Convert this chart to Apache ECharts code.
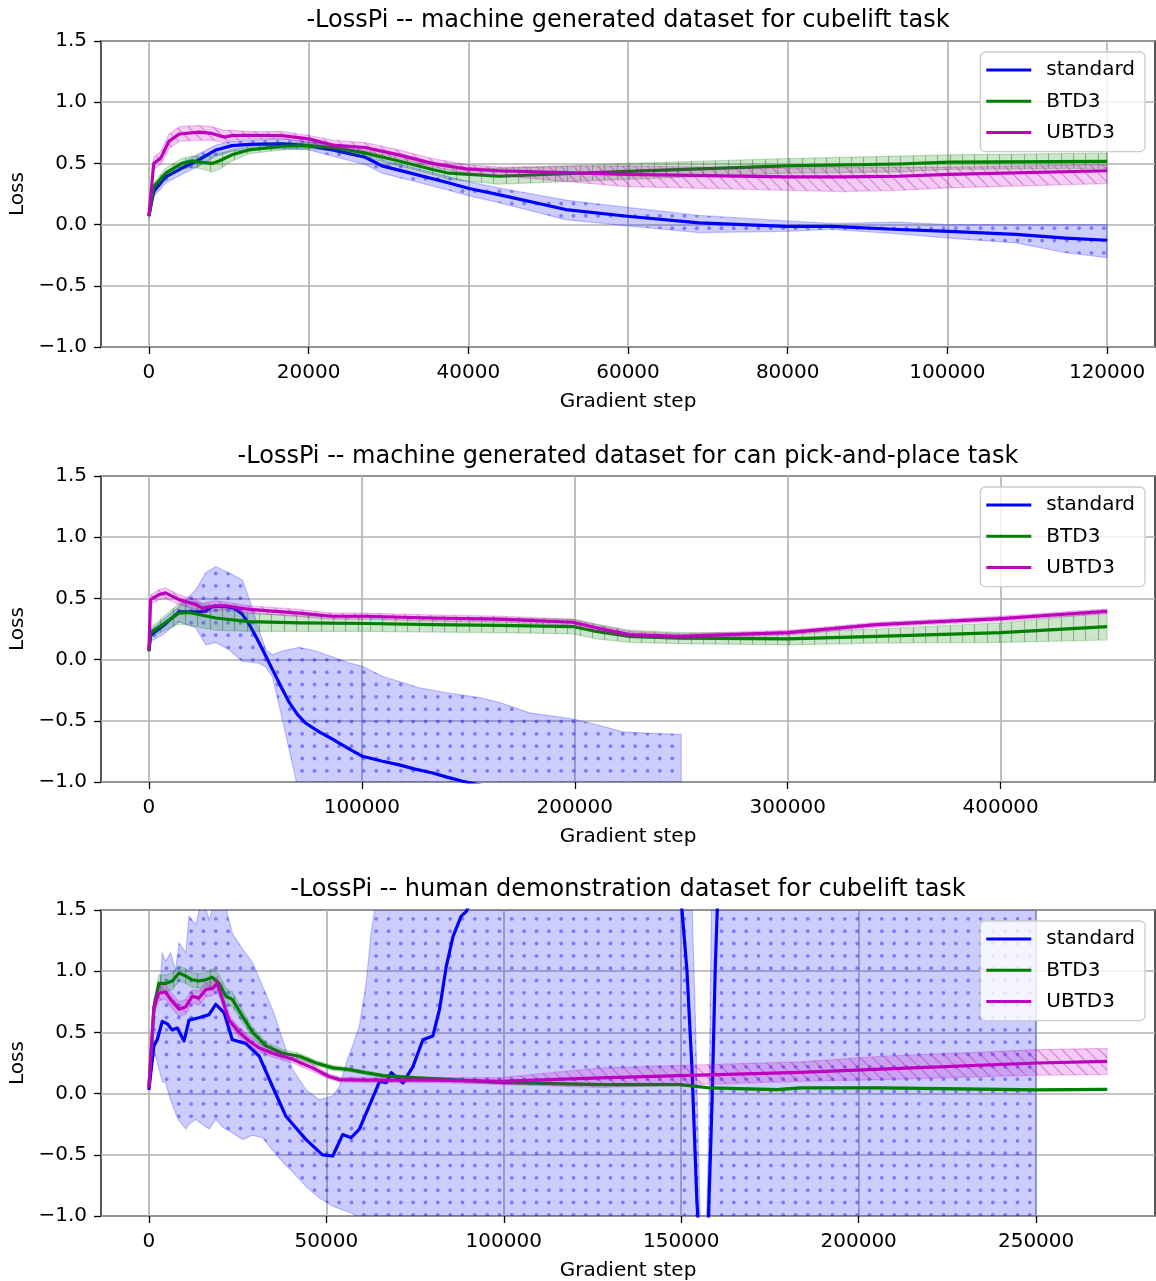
<!DOCTYPE html>
<html><head><meta charset="utf-8">
<script src="https://cdn.jsdelivr.net/npm/echarts@6/dist/echarts.min.js"></script>
<style>html,body{margin:0;padding:0;background:#fff}#chart{width:1156px;height:1281px}</style>
</head><body><div id="chart"></div>
<script>
// ---------------- DATA ----------------
const titles = [
  '-LossPi -- machine generated dataset for cubelift task',
  '-LossPi -- machine generated dataset for can pick-and-place task',
  '-LossPi -- human demonstration dataset for cubelift task'
];
const seriesNames = ['standard', 'BTD3', 'UBTD3'];
const xTicks1 = [0, 20000, 40000, 60000, 80000, 100000, 120000];
const xTicks2 = [0, 100000, 200000, 300000, 400000];
const xTicks3 = [0, 50000, 100000, 150000, 200000, 250000];

// Plot 1
const p1StdX  = [0,600,2100,4100,6300,8400,10400,12500,16700,20000,23000,27100,29200,33400,37600,40100,43800,52200,59900,68900,79800,85600,93900,100200,108600,114800,120000];
const p1StdY  = [0.07,0.27,0.39,0.46,0.53,0.61,0.645,0.655,0.66,0.645,0.61,0.55,0.48,0.41,0.34,0.295,0.245,0.123,0.068,0.014,-0.014,-0.014,-0.04,-0.055,-0.08,-0.11,-0.128];
const p1StdLo = [0.06,0.23,0.34,0.41,0.48,0.56,0.60,0.61,0.62,0.61,0.56,0.49,0.42,0.35,0.28,0.235,0.18,0.04,-0.01,-0.065,-0.055,-0.04,-0.075,-0.11,-0.15,-0.23,-0.27];
const p1StdHi = [0.08,0.30,0.43,0.50,0.58,0.65,0.68,0.69,0.70,0.68,0.65,0.60,0.53,0.46,0.39,0.35,0.30,0.20,0.14,0.075,0.03,0.01,0.02,0.0,0.0,0.0,0.0];
const p1BtdX  = [0,600,2100,4100,5400,6300,7900,8800,10400,12500,16700,20000,23000,27100,31300,35500,37600,43800,59900,79800,93900,100200,120000];
const p1BtdY  = [0.07,0.31,0.42,0.50,0.52,0.51,0.50,0.52,0.57,0.61,0.64,0.645,0.63,0.585,0.52,0.45,0.42,0.395,0.435,0.48,0.495,0.51,0.517];
const p1BtdLo = [0.06,0.28,0.38,0.45,0.47,0.46,0.43,0.45,0.52,0.58,0.61,0.62,0.60,0.55,0.48,0.41,0.37,0.33,0.37,0.42,0.43,0.45,0.46];
const p1BtdHi = [0.08,0.34,0.46,0.54,0.56,0.56,0.56,0.58,0.61,0.64,0.67,0.67,0.66,0.62,0.56,0.49,0.47,0.46,0.50,0.54,0.56,0.57,0.585];
const p1UbX   = [0,600,1500,2500,3800,6300,7900,9400,10400,12500,16700,20000,23000,27100,31300,35500,39700,43800,59900,79800,87000,93900,100200,120000];
const p1UbY   = [0.07,0.50,0.545,0.68,0.74,0.755,0.745,0.715,0.727,0.73,0.727,0.70,0.65,0.63,0.57,0.50,0.455,0.44,0.41,0.39,0.39,0.395,0.41,0.44];
const p1UbLo  = [0.06,0.45,0.49,0.62,0.68,0.69,0.69,0.67,0.69,0.70,0.70,0.67,0.62,0.60,0.54,0.47,0.42,0.40,0.31,0.28,0.27,0.28,0.30,0.335];
const p1UbHi  = [0.08,0.55,0.60,0.74,0.80,0.81,0.80,0.77,0.77,0.76,0.76,0.73,0.69,0.67,0.61,0.54,0.49,0.47,0.48,0.46,0.47,0.47,0.47,0.49];

// Plot 2
const p2StdX  = [0,800,6300,14100,23500,26700,29800,36100,40000,43900,47000,50200,54000,58000,62000,65900,69800,73700,80000,86200,94000,100300,109700,117600,125000,133300,140000,147400,170000,200000,250000];
const p2StdY  = [0.07,0.20,0.27,0.39,0.39,0.395,0.435,0.435,0.42,0.37,0.29,0.19,0.06,-0.08,-0.22,-0.35,-0.45,-0.52,-0.59,-0.65,-0.73,-0.79,-0.83,-0.86,-0.895,-0.926,-0.96,-0.994,-1.08,-1.18,-1.35];
const p2StdBandX = [0,800,6300,14100,22000,26700,31400,37600,43900,47800,51700,54900,58000,62700,69000,70600,78400,94100,100300,109700,127000,139600,155200,164600,178700,199100,210100,222600,233600,250000];
const p2StdHi = [0.08,0.24,0.32,0.435,0.57,0.71,0.76,0.71,0.65,0.46,0.245,0.08,0.04,0.07,0.095,0.10,0.07,-0.027,-0.055,-0.136,-0.23,-0.27,-0.31,-0.35,-0.435,-0.485,-0.53,-0.59,-0.60,-0.61];
const p2StdLo = [0.06,0.15,0.20,0.31,0.26,0.12,0.14,0.08,-0.014,-0.02,-0.03,-0.06,-0.14,-0.49,-0.98,-1.06,-1.3,-1.6,-1.7,-1.8,-1.9,-2.0,-2.1,-2.1,-2.2,-2.3,-2.3,-2.3,-2.3,-2.3];
const p2BtdX  = [0,800,6300,14100,18800,31400,47000,70600,101900,133300,164600,199100,210100,225800,249300,300000,341800,400200,450000];
const p2BtdY  = [0.07,0.22,0.285,0.38,0.385,0.34,0.31,0.30,0.295,0.285,0.28,0.27,0.23,0.19,0.175,0.17,0.19,0.22,0.27];
const p2BtdLo = [0.06,0.18,0.23,0.29,0.28,0.24,0.23,0.23,0.23,0.225,0.22,0.21,0.17,0.14,0.13,0.12,0.135,0.14,0.16];
const p2BtdHi = [0.08,0.26,0.34,0.46,0.48,0.43,0.38,0.36,0.355,0.345,0.34,0.33,0.29,0.24,0.22,0.22,0.25,0.30,0.385];
const p2UbX   = [0,800,4700,7800,14100,22000,25100,31400,36100,47000,70600,86200,101900,133300,164600,199100,210100,225800,249300,300000,341800,400200,450000];
const p2UbY   = [0.08,0.49,0.53,0.545,0.49,0.45,0.42,0.44,0.44,0.41,0.38,0.354,0.354,0.34,0.33,0.305,0.26,0.204,0.19,0.22,0.286,0.335,0.395];
const p2UbLo  = [0.07,0.45,0.49,0.50,0.45,0.41,0.38,0.40,0.41,0.38,0.35,0.33,0.33,0.315,0.305,0.28,0.235,0.18,0.17,0.20,0.265,0.315,0.375];
const p2UbHi  = [0.09,0.53,0.57,0.585,0.53,0.49,0.46,0.48,0.47,0.44,0.41,0.38,0.38,0.365,0.355,0.33,0.285,0.23,0.21,0.24,0.305,0.355,0.415];

// Plot 3
const p3StdX  = [0,1400,2350,3760,5200,6580,7990,9900,11300,14100,16950,18840,21200,23500,27300,31100,34800,38600,44300,48900,51800,54600,57000,59300,62100,65000,66900,68300,71600,74400,77200,80000,81900,83800,85700,88000,89500,95000,110000,130000,145000,150200,151600,153000,154400,155500,156700,157700,158700,159600,161000,170000,200000,230000,250000];
const p3StdY  = [0.03,0.39,0.44,0.59,0.57,0.52,0.535,0.43,0.60,0.62,0.645,0.73,0.66,0.44,0.41,0.305,0.06,-0.185,-0.376,-0.50,-0.51,-0.335,-0.36,-0.29,-0.10,0.10,0.09,0.17,0.087,0.22,0.44,0.47,0.69,1.04,1.285,1.45,1.49,1.9,2.6,3.0,2.6,1.5,1.01,0.22,-0.87,-1.4,-1.4,-0.99,-0.05,1.04,2.2,3.0,3.5,3.8,4.0];
const p3StdBandX = [0,1400,1900,3300,3760,4700,6100,7500,8500,10400,11300,13200,15000,17000,18800,21000,23500,26400,29200,32000,34800,37700,40500,44300,48000,51800,53700,55600,57400,59300,61200,62600,63600,70000,100000,140000,150000,152000,153100,154000,154900,155400,157100,157600,158000,158500,159000,160000,200000,250000];
const p3StdHi = [0.10,0.77,0.82,0.93,1.15,1.08,1.15,1.01,1.23,1.15,1.45,1.38,1.60,1.42,1.60,1.60,1.31,1.18,1.07,0.88,0.69,0.44,0.196,0.03,-0.05,-0.02,0.06,0.25,0.39,0.55,0.90,1.31,1.50,2.5,4.0,5.0,4.0,2.5,1.5,0.6,-0.5,-1.05,-1.05,-0.5,0.3,1.5,2.5,4.0,5.0,5.0];
const p3StdLo = [0.03,0.30,0.305,0.15,0.10,0.087,-0.05,-0.16,-0.22,-0.29,-0.25,-0.21,-0.25,-0.29,-0.21,-0.28,-0.32,-0.376,-0.34,-0.36,-0.46,-0.56,-0.64,-0.76,-0.85,-0.92,-0.94,-0.96,-0.98,-1.02,-1.1,-1.2,-1.3,-1.6,-2.5,-3,-3,-3,-3,-3,-3,-3,-3,-3,-3,-3,-3,-3,-3,-3];
const p3BtdX  = [0,1400,2800,4700,6600,8500,10400,12200,14100,16000,17900,19800,21700,23500,26400,29200,33000,37700,42400,47100,51800,56500,61200,65900,75300,84700,98900,127100,149700,158200,177000,183600,206200,250500,270000];
const p3BtdY  = [0.06,0.69,0.90,0.90,0.92,0.985,0.96,0.93,0.92,0.93,0.95,0.90,0.795,0.77,0.63,0.50,0.39,0.33,0.305,0.25,0.21,0.196,0.17,0.147,0.128,0.114,0.092,0.074,0.074,0.046,0.033,0.046,0.046,0.03,0.035];
const p3BtdLo = [0.05,0.62,0.82,0.83,0.85,0.92,0.90,0.87,0.86,0.87,0.88,0.83,0.73,0.71,0.58,0.46,0.36,0.30,0.28,0.23,0.19,0.18,0.155,0.135,0.115,0.10,0.08,0.065,0.065,0.038,0.025,0.038,0.038,0.022,0.027];
const p3BtdHi = [0.07,0.76,0.97,0.97,0.99,1.04,1.02,0.99,0.98,0.99,1.02,0.97,0.86,0.83,0.68,0.54,0.42,0.36,0.33,0.27,0.23,0.21,0.185,0.16,0.14,0.128,0.104,0.083,0.083,0.054,0.041,0.054,0.054,0.038,0.043];
const p3UbX   = [0,1400,2800,4700,6100,8500,10400,12200,14100,16000,17900,19300,20700,22600,25400,28200,31100,34800,40500,46100,50800,53700,61200,80000,98900,127100,149700,183600,206200,250500,270000];
const p3UbY   = [0.05,0.71,0.82,0.83,0.77,0.69,0.71,0.795,0.78,0.85,0.86,0.90,0.77,0.60,0.50,0.43,0.373,0.33,0.28,0.21,0.14,0.114,0.11,0.11,0.10,0.128,0.147,0.174,0.20,0.25,0.264];
const p3UbLo  = [0.04,0.65,0.76,0.77,0.71,0.63,0.65,0.74,0.72,0.79,0.80,0.84,0.72,0.56,0.46,0.39,0.34,0.30,0.25,0.18,0.12,0.095,0.09,0.09,0.075,0.05,0.07,0.10,0.114,0.15,0.155];
const p3UbHi  = [0.06,0.77,0.88,0.89,0.83,0.75,0.77,0.85,0.84,0.91,0.92,0.96,0.82,0.64,0.54,0.47,0.41,0.36,0.31,0.24,0.16,0.135,0.13,0.13,0.13,0.21,0.23,0.26,0.305,0.36,0.37];

// ---------------- STYLE / BUILD ----------------
const FONT = "'DejaVu Sans', sans-serif";
const COL = { standard: '#0000ff', BTD3: '#008000', UBTD3: '#bf00bf' };

function makeTile(kind) {
  const s = 37, c = document.createElement('canvas');
  c.width = s; c.height = s;
  const g = c.getContext('2d');
  const step = s / 3;
  if (kind === 'dots') {
    g.fillStyle = 'rgba(0,0,255,0.2)'; g.fillRect(0, 0, s, s);
    g.fillStyle = 'rgba(0,0,255,0.4)';
    for (let i = 0; i < 3; i++) for (let j = 0; j < 3; j++) {
      g.beginPath(); g.arc(i * step + step / 2, j * step + step / 2, 1.9, 0, Math.PI * 2); g.fill();
    }
  } else if (kind === 'vlines') {
    g.fillStyle = 'rgba(0,128,0,0.2)'; g.fillRect(0, 0, s, s);
    g.strokeStyle = 'rgba(0,70,0,0.32)'; g.lineWidth = 1.2;
    for (let i = 0; i < 3; i++) { const x = Math.round(i * step) + 0.5; g.beginPath(); g.moveTo(x, 0); g.lineTo(x, s); g.stroke(); }
  } else {
    g.fillStyle = 'rgba(191,0,191,0.2)'; g.fillRect(0, 0, s, s);
    g.strokeStyle = 'rgba(191,0,191,0.38)'; g.lineWidth = 1.2;
    for (let k = -3; k <= 3; k++) { g.beginPath(); g.moveTo(k * step, 0); g.lineTo(k * step + s, s); g.stroke(); }
  }
  return { image: c, repeat: 'repeat' };
}
const PAT = { standard: makeTile('dots'), BTD3: makeTile('vlines'), UBTD3: makeTile('diag') };
const EDGE = { standard: 'rgba(0,0,255,0.22)', BTD3: 'rgba(0,128,0,0.22)', UBTD3: 'rgba(191,0,191,0.22)' };

function bandSeries(gi, key, xs, lo, hi, z) {
  return {
    type: 'custom', name: key + ' band', coordinateSystem: 'cartesian2d',
    xAxisIndex: gi, yAxisIndex: gi, clip: true, silent: true, z: z,
    data: xs.map((x, i) => [x, lo[i], hi[i]]),
    encode: { x: 0, y: [1, 2] },
    renderItem: function (params, api) {
      if (params.dataIndex !== 0) return null;
      const pts = [];
      for (let i = 0; i < xs.length; i++) pts.push(api.coord([xs[i], hi[i]]));
      for (let i = xs.length - 1; i >= 0; i--) pts.push(api.coord([xs[i], lo[i]]));
      return { type: 'polygon', shape: { points: pts },
        style: { fill: PAT[key], stroke: EDGE[key], lineWidth: 1.2 } };
    }
  };
}
function lineSeries(gi, key, xs, ys, z) {
  return {
    type: 'line', name: key, xAxisIndex: gi, yAxisIndex: gi, z: z,
    data: xs.map((x, i) => [x, ys[i]]), symbol: 'none', showSymbol: false,
    color: COL[key], itemStyle: { color: COL[key] },
    lineStyle: { color: COL[key], width: 3.2, join: 'round' }, clip: true, silent: true
  };
}

const gridTops = [41, 476, 910];
const xRanges = [[-6000, 126000], [-22500, 472500], [-13500, 283500]];
const xTickSets = [xTicks1, xTicks2, xTicks3];

const grids = gridTops.map(t => ({ left: 101, top: t, width: 1054, height: 306, show: true,
  borderColor: '#000', borderWidth: 1.3, backgroundColor: 'transparent', containLabel: false, outerBoundsMode: 'none' }));

const xAxes = xRanges.map((r, i) => ({
  type: 'value', gridIndex: i, min: r[0], max: r[1], position: 'bottom',
  name: 'Gradient step', nameLocation: 'middle', nameGap: 45,
  nameTextStyle: { fontSize: 20, fontFamily: FONT, color: '#000' },
  axisLine: { show: false, onZero: false },
  axisTick: { show: true, inside: false, length: 7, customValues: xTickSets[i], lineStyle: { color: '#000', width: 1.3 } },
  axisLabel: { customValues: xTickSets[i], fontSize: 20, fontFamily: FONT, color: '#000', margin: 16, formatter: v => String(v) },
  splitLine: { show: true, lineStyle: { color: '#b0b0b0', width: 1.6 } }
}));
const yAxes = [0, 1, 2].map(i => ({
  type: 'value', gridIndex: i, min: -1, max: 1.5, interval: 0.5, position: 'left',
  name: 'Loss', nameLocation: 'middle', nameGap: 70,
  nameTextStyle: { fontSize: 20, fontFamily: FONT, color: '#000' },
  axisLine: { show: false, onZero: false },
  axisTick: { show: true, inside: false, length: 7, lineStyle: { color: '#000', width: 1.3 } },
  axisLabel: { fontSize: 20, fontFamily: FONT, color: '#000', margin: 14,
    formatter: v => (v < 0 ? '\u2212' : '') + Math.abs(v).toFixed(1) },
  splitLine: { show: true, lineStyle: { color: '#b0b0b0', width: 1.6 } }
}));

const legends = gridTops.map(t => ({
  orient: 'vertical', right: 11, top: t + 11, z: 20,
  data: seriesNames, icon: 'rect', itemWidth: 45, itemHeight: 3, itemGap: 11.3,
  selectedMode: false,
  backgroundColor: 'rgba(255,255,255,0.8)', borderColor: '#cccccc', borderWidth: 1.3, borderRadius: 5,
  padding: [8, 10, 9, 6],
  textStyle: { fontSize: 20, fontFamily: FONT, color: '#000', padding: [0, 0, 0, 10] }
}));

const series = [
  bandSeries(0, 'standard', p1StdX, p1StdLo, p1StdHi, 2), lineSeries(0, 'standard', p1StdX, p1StdY, 3),
  bandSeries(0, 'BTD3', p1BtdX, p1BtdLo, p1BtdHi, 4), lineSeries(0, 'BTD3', p1BtdX, p1BtdY, 5),
  bandSeries(0, 'UBTD3', p1UbX, p1UbLo, p1UbHi, 6), lineSeries(0, 'UBTD3', p1UbX, p1UbY, 7),

  bandSeries(1, 'standard', p2StdBandX, p2StdLo, p2StdHi, 2), lineSeries(1, 'standard', p2StdX, p2StdY, 3),
  bandSeries(1, 'BTD3', p2BtdX, p2BtdLo, p2BtdHi, 4), lineSeries(1, 'BTD3', p2BtdX, p2BtdY, 5),
  bandSeries(1, 'UBTD3', p2UbX, p2UbLo, p2UbHi, 6), lineSeries(1, 'UBTD3', p2UbX, p2UbY, 7),

  bandSeries(2, 'standard', p3StdBandX, p3StdLo, p3StdHi, 2), lineSeries(2, 'standard', p3StdX, p3StdY, 3),
  bandSeries(2, 'BTD3', p3BtdX, p3BtdLo, p3BtdHi, 4), lineSeries(2, 'BTD3', p3BtdX, p3BtdY, 5),
  bandSeries(2, 'UBTD3', p3UbX, p3UbLo, p3UbHi, 6), lineSeries(2, 'UBTD3', p3UbX, p3UbY, 7)
];

const titleY = [21, 457, 890];
const graphics = titles.map((t, i) => ({
  type: 'text', x: 628, y: titleY[i], z: 10,
  style: { text: t, font: '24px ' + FONT, fill: '#000', textAlign: 'center', textVerticalAlign: 'middle' }
}));

const chart = echarts.init(document.getElementById('chart'), null, { renderer: 'canvas' });
chart.setOption({
  animation: false,
  backgroundColor: '#ffffff',
  grid: grids, xAxis: xAxes, yAxis: yAxes,
  legend: legends, graphic: graphics, series: series
});
</script></body></html>
